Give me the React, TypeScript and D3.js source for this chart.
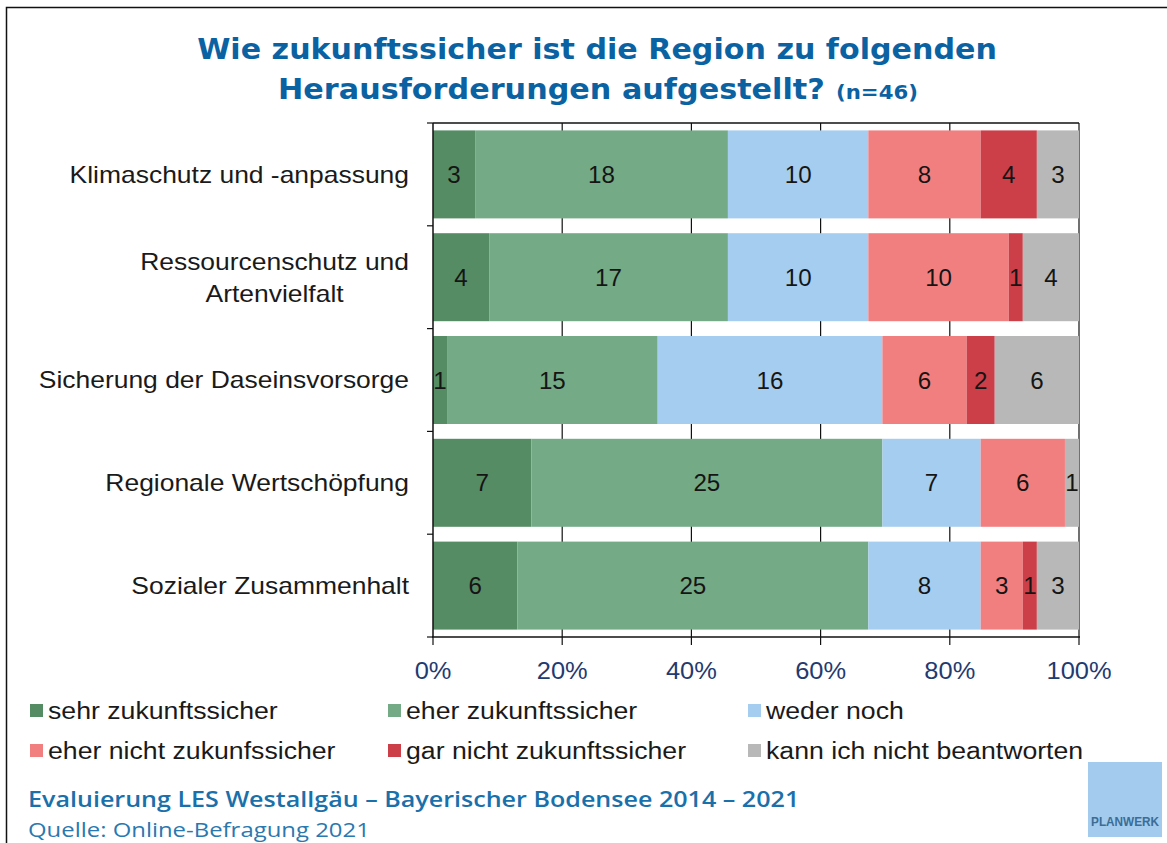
import React, { useEffect, useRef } from 'react';
import * as d3 from 'd3';

const W = 1167;
const H = 843;

const titleLine1 = 'Wie zukunftssicher ist die Region zu folgenden';
const titleLine2 = 'Herausforderungen aufgestellt?';
const titleN = '(n=46)';
const footer1 = 'Evaluierung LES Westallgäu – Bayerischer Bodensee 2014 – 2021';
const footer2 = 'Quelle: Online-Befragung 2021';
const logoText = 'PLANWERK';

const categories = [
  'Klimaschutz und -anpassung',
  'Ressourcenschutz und\nArtenvielfalt',
  'Sicherung der Daseinsvorsorge',
  'Regionale Wertschöpfung',
  'Sozialer Zusammenhalt',
];

const seriesNames = [
  'sehr zukunftssicher',
  'eher zukunftssicher',
  'weder noch',
  'eher nicht zukunfssicher',
  'gar nicht zukunftssicher',
  'kann ich nicht beantworten',
];
const seriesColors = ['#568c64', '#74aa86', '#a5cdef', '#f27f80', '#cc3f49', '#b8b8b8'];

const sehr = [3, 4, 1, 7, 6];
const eher = [18, 17, 15, 25, 25];
const weder = [10, 10, 16, 7, 8];
const eherNicht = [8, 10, 6, 6, 3];
const garNicht = [4, 1, 2, 0, 1];
const kann = [3, 4, 6, 1, 3];

const xTicks = [0, 0.2, 0.4, 0.6, 0.8, 1];

export default function App() {
  const ref = useRef<SVGSVGElement>(null);

  useEffect(() => {
    const svg = d3.select(ref.current as SVGSVGElement);
    svg.selectAll('*').remove();

    const left = 433, right = 1079, top = 123, bottom = 637;
    const x = d3.scaleLinear().domain([0, 1]).range([left, right]);
    const y = d3.scaleBand<string>().domain(categories).range([top, bottom]).paddingInner(0.144).paddingOuter(0.072);

    const allSeries = [sehr, eher, weder, eherNicht, garNicht, kann];
    const rows = categories.map((c, i) => {
      const r: any = { cat: c };
      seriesNames.forEach((s, j) => (r[s] = allSeries[j][i]));
      return r;
    });
    const stacked = d3.stack<any>().keys(seriesNames).offset(d3.stackOffsetExpand)(rows);

    // frame
    svg.append('rect').attr('x', 0).attr('y', 0).attr('width', W).attr('height', H).attr('fill', '#fff');
    svg.append('rect').attr('x', 6.5).attr('y', 7.5).attr('width', W + 50).attr('height', H + 50)
      .attr('fill', 'none').attr('stroke', '#111').attr('stroke-width', 1.5);

    const textAt = (g: any, px: number, py: number, str: string, o: any) => {
      const t = g.append('text')
        .attr('transform', `translate(${px},${py}) scale(${o.sx ?? 1},1)`)
        .attr('text-anchor', o.anchor ?? 'start')
        .attr('font-family', o.family ?? '"Liberation Sans", Arial, sans-serif')
        .attr('font-size', o.size)
        .attr('font-weight', o.weight ?? 400)
        .attr('fill', o.fill ?? '#1a1a1a')
        .text(str);
      return t;
    };
    const fitText = (t: any, px: number, py: number, target: number) => {
      const w = (t.node() as SVGTextElement).getComputedTextLength();
      t.attr('transform', `translate(${px},${py}) scale(${target / w},1)`);
    };

    // title
    const t1 = textAt(svg, 597, 59, titleLine1, { anchor: 'middle', size: 29, weight: 700, family: '"DejaVu Sans", sans-serif', fill: '#0b62a2' });
    fitText(t1, 597, 59, 800);
    const t2 = textAt(svg, 278, 99, titleLine2, { size: 29, weight: 700, family: '"DejaVu Sans", sans-serif', fill: '#0b62a2' });
    fitText(t2, 278, 99, 547);
    const t3 = textAt(svg, 836, 99, titleN, { size: 20, weight: 700, family: '"DejaVu Sans", sans-serif', fill: '#0b62a2' });
    fitText(t3, 836, 99, 82);

    // gridlines
    svg.append('g').selectAll('line').data(xTicks.slice(1)).join('line')
      .attr('x1', (d) => x(d)).attr('x2', (d) => x(d)).attr('y1', top).attr('y2', bottom)
      .attr('stroke', '#111').attr('stroke-width', 1.2);
    svg.append('line').attr('x1', left).attr('x2', right).attr('y1', top).attr('y2', top)
      .attr('stroke', '#111').attr('stroke-width', 1.5);

    // bars
    const bw = y.bandwidth();
    stacked.forEach((layer, j) => {
      svg.append('g').selectAll('rect').data(layer).join('rect')
        .attr('x', (d) => x(d[0]))
        .attr('width', (d) => x(d[1]) - x(d[0]))
        .attr('y', (d: any) => y(d.data.cat) as number)
        .attr('height', bw)
        .attr('fill', seriesColors[j]);
    });
    // values
    stacked.forEach((layer, j) => {
      layer.forEach((d: any, i: number) => {
        const v = allSeries[j][i];
        if (!v) return;
        textAt(svg, (x(d[0]) + x(d[1])) / 2, (y(d.data.cat) as number) + bw / 2 + 8.5, String(v),
          { anchor: 'middle', size: 23, sx: 1.05, fill: '#151515' });
      });
    });

    // axes
    svg.append('line').attr('x1', left).attr('x2', left).attr('y1', top).attr('y2', bottom)
      .attr('stroke', '#111').attr('stroke-width', 1.5);
    svg.append('line').attr('x1', left - 1).attr('x2', right + 1).attr('y1', bottom).attr('y2', bottom)
      .attr('stroke', '#111').attr('stroke-width', 1.5);
    const step = y.step();
    svg.append('g').selectAll('line').data(d3.range(categories.length + 1)).join('line')
      .attr('x1', left - 6).attr('x2', left).attr('y1', (i) => top + i * step).attr('y2', (i) => top + i * step)
      .attr('stroke', '#111').attr('stroke-width', 1.2);
    svg.append('g').selectAll('line').data(xTicks).join('line')
      .attr('x1', (d) => x(d)).attr('x2', (d) => x(d)).attr('y1', bottom).attr('y2', bottom + 8)
      .attr('stroke', '#111').attr('stroke-width', 1.2);
    xTicks.forEach((t) => {
      textAt(svg, x(t), 679, d3.format('.0%')(t), { anchor: 'middle', size: 24, sx: 1.06, fill: '#1f3b70' });
    });

    // category labels
    categories.forEach((c) => {
      const lines = c.split('\n');
      const cy = (y(c) as number) + bw / 2;
      const g = svg.append('g').attr('transform', `translate(409,0) scale(1.15,1)`);
      const texts = lines.map((ln, i) =>
        g.append('text').attr('y', cy + 8.5 + (i - (lines.length - 1) / 2) * 32)
          .attr('font-family', '"Liberation Sans", Arial, sans-serif').attr('font-size', 23)
          .attr('fill', '#1a1a1a').attr('text-anchor', 'middle').text(ln));
      const maxW = Math.max(...texts.map((t) => (t.node() as SVGTextElement).getComputedTextLength()));
      texts.forEach((t) => t.attr('x', -maxW / 2));
    });

    // legend
    const legX = [30, 388, 748];
    const legY = [719, 759];
    seriesNames.forEach((s, i) => {
      const lx = legX[i % 3];
      const ly = legY[Math.floor(i / 3)];
      svg.append('rect').attr('x', lx).attr('y', ly - 15).attr('width', 13).attr('height', 13).attr('fill', seriesColors[i]);
      textAt(svg, lx + 18, ly, s, { size: 23, sx: 1.16, fill: '#1a1a1a' });
    });

    // footer
    const f1 = textAt(svg, 28, 807, footer1, { size: 21, weight: 600, family: '"Open Sans", sans-serif', fill: '#1a70aa' });
    fitText(f1, 28, 807, 772);
    const f2 = textAt(svg, 28, 837, footer2, { size: 20, weight: 400, family: '"Open Sans", sans-serif', fill: '#2a78b0' });
    fitText(f2, 28, 837, 342);

    // logo
    svg.append('rect').attr('x', 1088).attr('y', 762).attr('width', 74).attr('height', 75).attr('fill', '#a2cbee');
    const lg = textAt(svg, 1125, 826, logoText, { anchor: 'middle', size: 12.5, weight: 700, fill: '#3b6d96' });
    fitText(lg, 1125, 826, 68);
  }, []);

  return <svg ref={ref} width={W} height={H} style={{ position: 'absolute', left: 0, top: 0, display: 'block' }} />;
}
